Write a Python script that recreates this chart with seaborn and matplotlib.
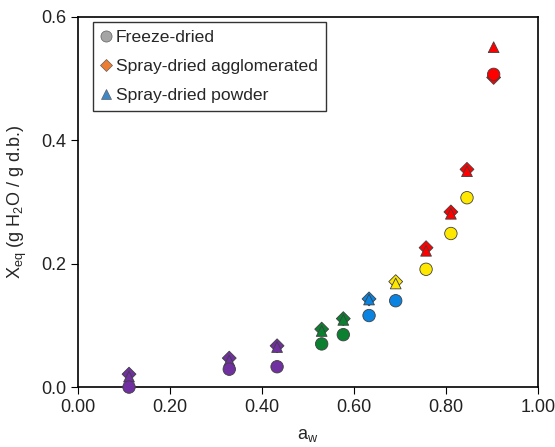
import matplotlib
matplotlib.use("Agg")
import matplotlib.pyplot as plt
from matplotlib.lines import Line2D
import seaborn as sns
import pandas as pd

# --- data ---
aw = [0.111, 0.329, 0.433, 0.530, 0.577, 0.633, 0.691, 0.757, 0.811, 0.846, 0.904]

x_freeze = [0.000, 0.029, 0.033, 0.070, 0.085, 0.116, 0.140, 0.191, 0.249, 0.307, 0.507]
x_spray_agg = [0.021, 0.047, 0.067, 0.094, 0.111, 0.143, 0.171, 0.226, 0.284, 0.353, 0.502]
x_spray_pow = [0.017, 0.043, 0.065, 0.091, 0.109, 0.142, 0.168, 0.221, 0.281, 0.350, 0.551]

col_freeze = ['purple', 'purple', 'purple', 'green', 'green', 'blue', 'blue',
              'yellow', 'yellow', 'yellow', 'red']
col_spray = ['purple', 'purple', 'purple', 'green', 'green', 'blue', 'yellow',
             'red', 'red', 'red', 'red']

series_names = ['Freeze-dried', 'Spray-dried agglomerated', 'Spray-dried powder']

palette = {'purple': '#7030A0', 'green': '#0B8030', 'blue': '#0A84E0',
           'yellow': '#FFE800', 'red': '#FF0000'}
legend_colors = ['#A5A5A5', '#ED7D31', '#3F88C8']
markers = ['o', 'D', '^']
sizes = [80, 50, 60]

sns.set_style('ticks')
plt.rcParams['font.family'] = ['Liberation Sans', 'DejaVu Sans']
plt.rcParams['mathtext.fontset'] = 'custom'
plt.rcParams['mathtext.rm'] = 'Liberation Sans'
plt.rcParams['mathtext.it'] = 'Liberation Sans'

fig = plt.figure(figsize=(5.55, 4.47), dpi=100)
ax = fig.add_axes([0.1405, 0.134, 0.8285, 0.828])

frames = [
    pd.DataFrame({'aw': aw, 'X': x_freeze, 'c': col_freeze}),
    pd.DataFrame({'aw': aw, 'X': x_spray_agg, 'c': col_spray}),
    pd.DataFrame({'aw': aw, 'X': x_spray_pow, 'c': col_spray}),
]
for df, m, s, z in zip(frames, markers, sizes, [5, 3, 4]):
    sns.scatterplot(data=df, x='aw', y='X', hue='c', palette=palette, marker=m,
                    s=s, edgecolor='#404040', linewidth=0.6, legend=False,
                    ax=ax, zorder=z, clip_on=False)

ax.set_xlim(0, 1.0)
ax.set_ylim(0, 0.6)
ax.set_xticks([0, 0.2, 0.4, 0.6, 0.8, 1.0])
ax.set_yticks([0, 0.2, 0.4, 0.6])
ax.xaxis.set_major_formatter(matplotlib.ticker.FormatStrFormatter('%.2f'))
ax.yaxis.set_major_formatter(matplotlib.ticker.FormatStrFormatter('%.1f'))
ax.tick_params(direction='out', length=5, width=0.8, labelsize=13, colors='black',
               labelcolor='#222222')
for sp in ax.spines.values():
    sp.set_visible(True)
    sp.set_color('black')
    sp.set_linewidth(1.2)
    sp.set_zorder(4.5)

ax.set_xlabel(r'a$_{\mathregular{w}}$', fontsize=13, labelpad=8)
ax.set_ylabel(r'X$_{\mathregular{eq}}$ (g H$_{\mathregular{2}}$O / g d.b.)', fontsize=13, labelpad=9)

handles = [Line2D([], [], marker=m, linestyle='none', markerfacecolor=c,
                  markeredgecolor='#606060', markeredgewidth=0.5, markersize=ms)
           for m, c, ms in zip(markers, legend_colors, [8, 6.5, 7.5])]
leg = ax.legend(handles, series_names, loc='upper left', bbox_to_anchor=(0.033, 0.986),
                borderaxespad=0, fontsize=12.6, handlelength=0.6, handletextpad=0.25,
                labelspacing=0.78, borderpad=0.45, frameon=True, fancybox=False)
leg.get_frame().set_edgecolor('black')
leg.get_frame().set_linewidth(1.0)
leg.set_zorder(6)

fig.savefig('out.png', dpi=100)
